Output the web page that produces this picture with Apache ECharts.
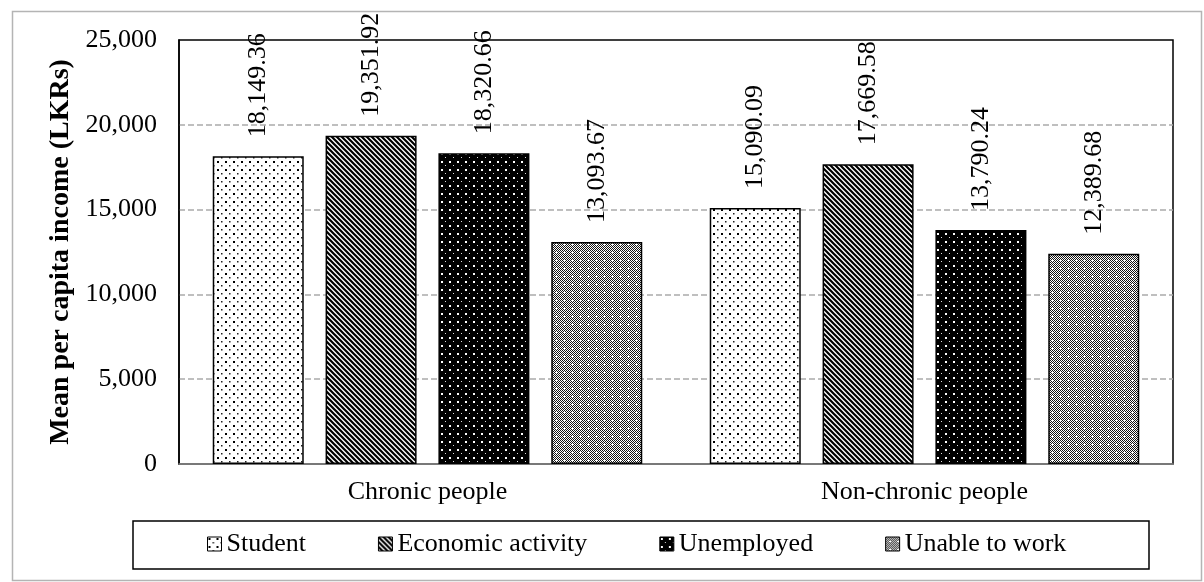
<!DOCTYPE html>
<html>
<head>
<meta charset="utf-8">
<script src="https://cdn.jsdelivr.net/npm/echarts@6/dist/echarts.min.js"></script>
<style>
html,body{margin:0;padding:0;background:#fff;}
#chart{width:1204px;height:582px;}
</style>
</head>
<body>
<div id="chart"></div>
<script>
const categories = ['Chronic people', 'Non-chronic people'];
const seriesNames = ['Student', 'Economic activity', 'Unemployed', 'Unable to work'];
const student = [18149.36, 15090.09];
const economicActivity = [19351.92, 17669.58];
const unemployed = [18320.66, 13790.24];
const unableToWork = [13093.67, 12389.68];
const yTicks = [0, 5000, 10000, 15000, 20000, 25000];

const FONT = 'Liberation Serif';

function makePattern(kind) {
  const c = document.createElement('canvas');
  const ctx = c.getContext('2d');
  if (kind === 'student') {
    c.width = 8; c.height = 8;
    ctx.fillStyle = '#fff'; ctx.fillRect(0, 0, 8, 8);
    ctx.fillStyle = '#000';
    ctx.fillRect(1, 1, 2, 2);
    ctx.fillStyle = '#222';
    ctx.fillRect(5, 5, 1.5, 1.5);
  } else if (kind === 'econ') {
    const n = 5;
    c.width = n; c.height = n;
    ctx.fillStyle = '#fff'; ctx.fillRect(0, 0, n, n);
    ctx.strokeStyle = '#000'; ctx.lineWidth = 2.2;
    ctx.beginPath();
    ctx.moveTo(-1, -1); ctx.lineTo(n + 1, n + 1);
    ctx.moveTo(-1 - n, -1); ctx.lineTo(1, n + 1);
    ctx.moveTo(n - 1, -1); ctx.lineTo(2 * n + 1, n + 1);
    ctx.stroke();
  } else if (kind === 'unemp') {
    c.width = 8; c.height = 8;
    ctx.fillStyle = '#000'; ctx.fillRect(0, 0, 8, 8);
    ctx.fillStyle = '#fff';
    ctx.fillRect(1, 1, 2, 2);
    ctx.fillStyle = '#ddd';
    ctx.fillRect(5, 5, 1, 1);
  } else {
    c.width = 8; c.height = 8;
    const img = ctx.createImageData(8, 8);
    const white = {};
    [[4,3],[3,4],[4,4],[5,4],[4,5]].forEach(p => white[p[0] + ',' + p[1]] = 1);
    for (let y = 0; y < 8; y++) {
      for (let x = 0; x < 8; x++) {
        let v = ((x + y) % 2 === 0) ? 20 : 255;
        if (white[x + ',' + y]) v = 255;
        const i = (y * 8 + x) * 4;
        img.data[i] = v; img.data[i + 1] = v; img.data[i + 2] = v; img.data[i + 3] = 255;
      }
    }
    ctx.putImageData(img, 0, 0);
  }
  return { image: c, repeat: 'repeat' };
}

const patterns = [makePattern('student'), makePattern('econ'), makePattern('unemp'), makePattern('unable')];
const seriesData = [student, economicActivity, unemployed, unableToWork];

function fmt(v) {
  const parts = v.toFixed(2).split('.');
  parts[0] = parts[0].replace(/\B(?=(\d{3})+(?!\d))/g, ',');
  return parts.join('.');
}
function fmtInt(v) {
  return String(v).replace(/\B(?=(\d{3})+(?!\d))/g, ',');
}

const chart = echarts.init(document.getElementById('chart'), null, { renderer: 'canvas' });

const series = seriesNames.map((name, i) => ({
  name: name,
  type: 'bar',
  data: seriesData[i],
  barWidth: 91,
  barGap: '24%',
  itemStyle: { color: patterns[i], borderColor: '#000', borderWidth: 1.5 },
  label: {
    show: true,
    position: 'top',
    rotate: 90,
    align: 'left',
    verticalAlign: 'middle',
    distance: 15,
    offset: [4, 0],
    fontFamily: FONT,
    fontSize: 26,
    color: '#000',
    formatter: p => fmt(p.value)
  },
  emphasis: { disabled: true }
}));

chart.setOption({
  animation: false,
  backgroundColor: '#fff',
  graphic: [
    { type: 'rect', shape: { x: 12.5, y: 11.5, width: 1189, height: 569 }, style: { fill: 'none', stroke: '#b4b4b4', lineWidth: 1.5 }, z: 0 },
    { type: 'rect', shape: { x: 133, y: 521, width: 1016, height: 48 }, style: { fill: 'none', stroke: '#000', lineWidth: 1.5 }, z: 0 }
  ],
  grid: {
    left: 179, right: 31, top: 40, bottom: 118,
    show: true, borderColor: '#000', borderWidth: 1.5, backgroundColor: 'transparent'
  },
  legend: {
    left: 207, top: 531,
    itemWidth: 14, itemHeight: 14, itemGap: 72,
    padding: 0,
    icon: 'rect',
    textStyle: { fontFamily: FONT, fontSize: 26, color: '#000', padding: [0, 0, 0, 0] },
    itemStyle: { borderColor: '#000', borderWidth: 1 },
    selectedMode: false,
    data: seriesNames
  },
  xAxis: {
    type: 'category',
    data: categories,
    axisTick: { show: false },
    axisLine: { show: true, lineStyle: { color: '#8c8c8c', width: 1.5 } },
    axisLabel: { fontFamily: FONT, fontSize: 26, color: '#000', margin: 15 }
  },
  yAxis: {
    type: 'value',
    min: yTicks[0], max: yTicks[yTicks.length - 1], interval: 5000,
    name: 'Mean per capita income (LKRs)',
    nameLocation: 'middle',
    nameGap: 100,
    nameTextStyle: { fontFamily: FONT, fontSize: 28, fontWeight: 'bold', color: '#000' },
    axisLine: { show: true, lineStyle: { color: '#000', width: 1.5 } },
    axisTick: { show: false },
    axisLabel: { fontFamily: FONT, fontSize: 26, color: '#000', margin: 22, formatter: v => fmtInt(v) },
    splitLine: { show: true, showMinLine: false, showMaxLine: false, lineStyle: { color: '#aaa', width: 1.5, type: [6, 3] } }
  },
  series: series
});
</script>
</body>
</html>
